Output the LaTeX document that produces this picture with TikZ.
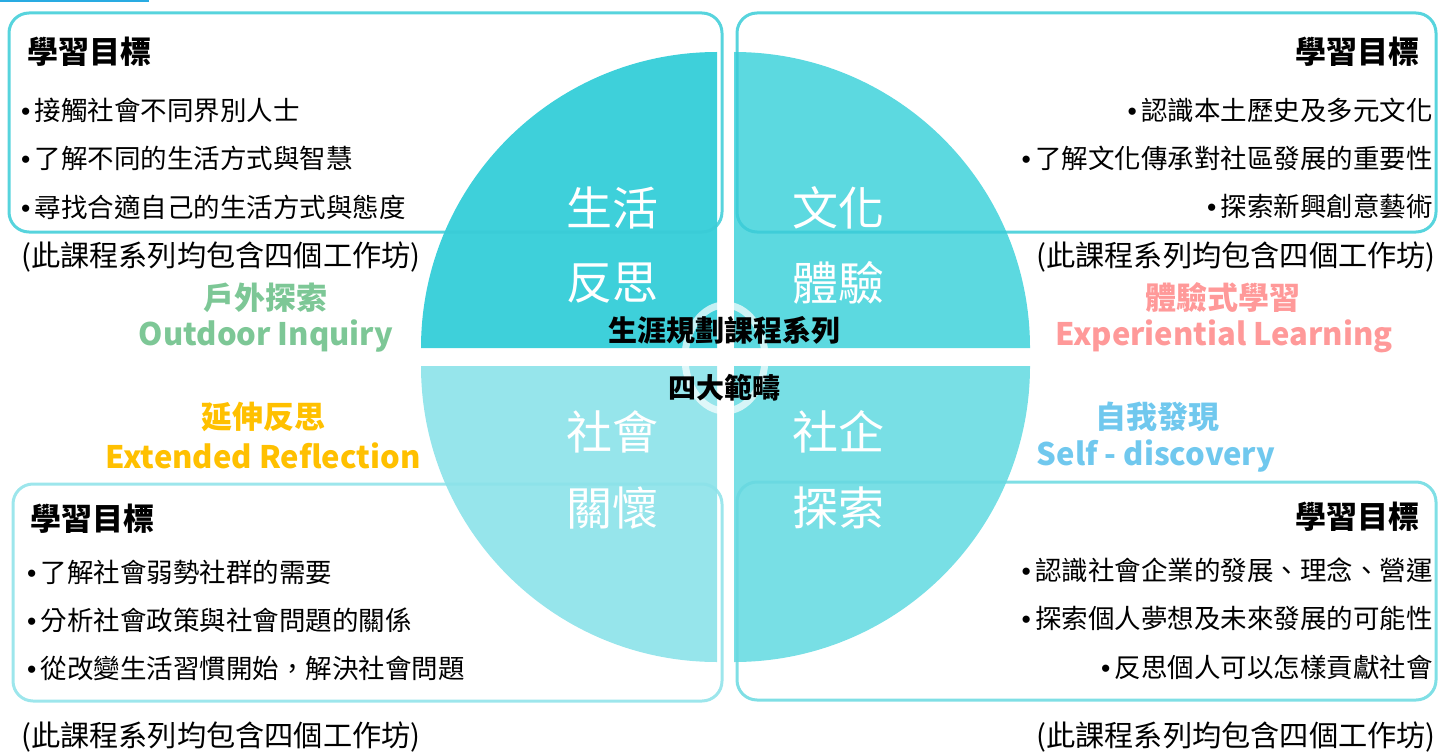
\documentclass[tikz,border=0pt]{standalone}
\usepackage{fontspec}
\usepackage{tikz}
\setmainfont{Noto Sans CJK TC}
\newfontfamily\dotfont{Liberation Sans}
\newcommand{\itemdot}{{\dotfont •}\hspace{4.5pt}}

\definecolor{qtl}{RGB}{62,208,218}
\definecolor{qtr}{RGB}{92,217,224}
\definecolor{qbl}{RGB}{150,229,235}
\definecolor{qbr}{RGB}{120,223,229}
\definecolor{boxtop}{RGB}{58,204,215}
\definecolor{boxbl}{RGB}{140,226,233}
\definecolor{boxbr}{RGB}{104,217,225}
\definecolor{greenlbl}{RGB}{125,199,150}
\definecolor{goldlbl}{RGB}{255,192,0}
\definecolor{pinklbl}{RGB}{255,153,153}
\definecolor{bluelbl}{RGB}{112,200,238}
\definecolor{topline}{RGB}{41,171,226}

\tikzset{
  goalbox/.style={line width=3pt, rounded corners=20pt},
  goalhead/.style={inner sep=0pt, font=\fontsize{31}{34}\selectfont\bfseries},
  goalitem/.style={inner sep=0pt, font=\fontsize{26.5}{30}\selectfont},
  wsnote/.style={inner sep=0pt, font=\fontsize{29.2}{32}\selectfont},
  tagtext/.style={inner sep=0pt, font=\fontsize{31}{34}\selectfont\bfseries},
  quadtext/.style={inner sep=0pt, text=white, font=\fontsize{46}{50}\selectfont},
  hubtext/.style={inner sep=0pt, font=\fontsize{29}{32}\selectfont\bfseries}
}

\begin{document}
\begin{tikzpicture}[x=1pt,y=-1pt]
  \useasboundingbox (0,0) rectangle (1439,754);
  % Draw the short line at the top
  \fill[topline] (0,0) rectangle (149,2.5);

  % Draw the four quarters of the disk
  \fill[qtl] (717,348) -- (421,348) arc[start angle=180,end angle=270,radius=296] -- cycle;
  \fill[qtr] (734,348) -- (734,52) arc[start angle=270,end angle=360,radius=296] -- cycle;
  \fill[qbr] (734,366) -- (1030,366) arc[start angle=0,end angle=90,radius=296] -- cycle;
  \fill[qbl] (717,366) -- (717,662) arc[start angle=90,end angle=180,radius=296] -- cycle;

  % Draw the goal boxes
  \draw[goalbox, boxtop, draw opacity=0.85] (9,13) rectangle (722,232);
  \draw[goalbox, boxtop, draw opacity=0.85] (737,13) rectangle (1436,232);
  \draw[goalbox, boxbl, draw opacity=0.85] (13,484) rectangle (722,701);
  \draw[goalbox, boxbr, draw opacity=0.85] (737,482) rectangle (1436,700);

  % Draw the ring in the middle
  \draw[white, line width=7pt, opacity=0.7] (725,358) ellipse [x radius=40, y radius=53];

  % Words on the quarters
  \node[quadtext] (life1) at (612,208) {生活};
  \node[quadtext] (life2) at (612,283) {反思};
  \node[quadtext] (cult1) at (838,208) {文化};
  \node[quadtext] (cult2) at (838,283) {體驗};
  \node[quadtext] (soc1) at (612,432) {社會};
  \node[quadtext] (soc2) at (612,508) {關懷};
  \node[quadtext] (ent1) at (838,432) {社企};
  \node[quadtext] (ent2) at (838,508) {探索};

  \node[hubtext] (hub1) at (724,330) {生涯規劃課程系列};
  \node[hubtext, font=\fontsize{28}{32}\selectfont\bfseries] (hub2) at (724,388) {四大範疇};

  % Top left box
  \node[goalhead, anchor=west] (tlhead) at (27,52) {學習目標};
  \foreach \t [count=\i] in {接觸社會不同界別人士, 了解不同的生活方式與智慧, 尋找合適自己的生活方式與態度}
    \node[goalitem, anchor=west] (tl\i) at (21,{110+48.5*(\i-1)}) {\itemdot\t};
  \node[wsnote, anchor=west] (tlnote) at (21,257) {(此課程系列均包含四個工作坊)};

  % Top right box
  \node[goalhead, anchor=east] (trhead) at (1420,52) {學習目標};
  \foreach \t [count=\i] in {認識本土歷史及多元文化, 了解文化傳承對社區發展的重要性, 探索新興創意藝術}
    \node[goalitem, anchor=east] (tr\i) at (1433,{110+48.5*(\i-1)}) {\itemdot\t};
  \node[wsnote, anchor=east] (trnote) at (1436,257) {(此課程系列均包含四個工作坊)};

  % Bottom left box
  \node[goalhead, anchor=west] (blhead) at (30,519) {學習目標};
  \foreach \t [count=\i] in {了解社會弱勢社群的需要, 分析社會政策與社會問題的關係, 從改變生活習慣開始，解決社會問題}
    \node[goalitem, anchor=west] (bl\i) at (27,{572+48*(\i-1)}) {\itemdot\t};
  \node[wsnote, anchor=west] (blnote) at (21,737) {(此課程系列均包含四個工作坊)};

  % Bottom right box
  \node[goalhead, anchor=east] (brhead) at (1420,517) {學習目標};
  \foreach \t [count=\i] in {認識社會企業的發展、理念、營運, 探索個人夢想及未來發展的可能性, 反思個人可以怎樣貢獻社會}
    \node[goalitem, anchor=east] (br\i) at (1433,{570+48.5*(\i-1)}) {\itemdot\t};
  \node[wsnote, anchor=east] (brnote) at (1436,737) {(此課程系列均包含四個工作坊)};

  % Coloured tags beside the disk
  \node[tagtext, text=greenlbl] (out1) at (265,298) {戶外探索};
  \node[tagtext, text=greenlbl] (out2) at (266,336) {Outdoor Inquiry};
  \node[tagtext, text=goldlbl] (ext1) at (263,417) {延伸反思};
  \node[tagtext, text=goldlbl] (ext2) at (263,456) {Extended Reflection};
  \node[tagtext, text=pinklbl] (exp1) at (1223,298) {體驗式學習};
  \node[tagtext, text=pinklbl] (exp2) at (1224,336) {Experiential Learning};
  \node[tagtext, text=bluelbl] (self1) at (1157,417) {自我發現};
  \node[tagtext, text=bluelbl] (self2) at (1156,456) {Self - discovery};
\end{tikzpicture}
\end{document}
